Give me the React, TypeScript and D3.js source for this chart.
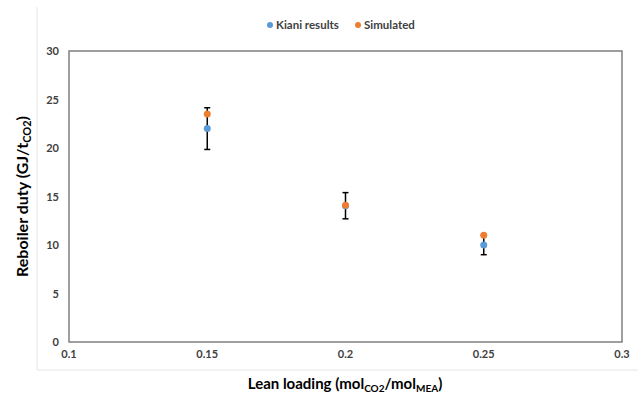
import React, { useEffect, useRef } from 'react';
import * as d3 from 'd3';

const loadings = [0.15, 0.2, 0.25];
const kiani = [22.0, 14.05, 10.0];
const kianiErr = [2.15, 1.35, 1.0];
const simulated = [23.5, 14.1, 11.0];
const xTicks = [0.1, 0.15, 0.2, 0.25, 0.3];
const yTicks = [0, 5, 10, 15, 20, 25, 30];

const blue = '#5b9bd5';
const orange = '#ed7d31';
const font = 'Lato, Calibri, sans-serif';

const App = () => {
  const svgRef = useRef<SVGSVGElement>(null);

  useEffect(() => {
    const w = 638;
    const h = 400;
    const svg = d3.select(svgRef.current)
      .attr('width', w)
      .attr('height', h)
      .style('display', 'block');
    svg.selectAll('*').remove();

    const left = 69, right = 622, top = 51, bottom = 342;

    // chart area border (light)
    svg.append('path')
      .attr('d', `M37,7 V370 H${w}`)
      .attr('fill', 'none')
      .attr('stroke', '#e6e6e6')
      .attr('stroke-width', 1);

    const xScale = d3.scaleLinear().domain([0.1, 0.3]).range([left, right]);
    const yScale = d3.scaleLinear().domain([0, 30]).range([bottom, top]);

    svg.append('rect')
      .attr('x', left)
      .attr('y', top)
      .attr('width', right - left)
      .attr('height', bottom - top)
      .attr('fill', 'none')
      .attr('stroke', '#7f7f7f')
      .attr('stroke-width', 1.5);

    svg.append('g').selectAll('text')
      .data(xTicks)
      .enter()
      .append('text')
      .attr('x', d => xScale(d))
      .attr('y', 358)
      .attr('text-anchor', 'middle')
      .attr('font-family', font)
      .attr('font-weight', 'bold')
      .attr('font-size', 11)
      .attr('fill', '#404040')
      .text(d => String(d));

    svg.append('g').selectAll('text')
      .data(yTicks)
      .enter()
      .append('text')
      .attr('x', 59)
      .attr('y', d => yScale(d) + 4)
      .attr('text-anchor', 'end')
      .attr('font-family', font)
      .attr('font-weight', 'bold')
      .attr('font-size', 11)
      .attr('fill', '#404040')
      .text(d => String(d));

    // error bars on Kiani results
    const eb = svg.append('g').attr('stroke', '#000').attr('stroke-width', 1.5);
    loadings.forEach((x, i) => {
      const cx = xScale(x);
      const y0 = yScale(kiani[i] - kianiErr[i]);
      const y1 = yScale(kiani[i] + kianiErr[i]);
      eb.append('line').attr('x1', cx).attr('x2', cx).attr('y1', y0).attr('y2', y1);
      eb.append('line').attr('x1', cx - 3).attr('x2', cx + 3).attr('y1', y0).attr('y2', y0);
      eb.append('line').attr('x1', cx - 3).attr('x2', cx + 3).attr('y1', y1).attr('y2', y1);
    });

    svg.append('g').selectAll('circle')
      .data(loadings)
      .enter()
      .append('circle')
      .attr('cx', d => xScale(d))
      .attr('cy', (d, i) => yScale(kiani[i]))
      .attr('r', 3.5)
      .attr('fill', blue);

    svg.append('g').selectAll('circle')
      .data(loadings)
      .enter()
      .append('circle')
      .attr('cx', d => xScale(d))
      .attr('cy', (d, i) => yScale(simulated[i]))
      .attr('r', 3.5)
      .attr('fill', orange);

    // legend
    const legend = [
      { name: 'Kiani results', color: blue, x: 270 },
      { name: 'Simulated', color: orange, x: 358 },
    ];
    legend.forEach(l => {
      svg.append('circle').attr('cx', l.x).attr('cy', 25).attr('r', 3).attr('fill', l.color);
      svg.append('text')
        .attr('x', l.x + 6)
        .attr('y', 29)
        .attr('font-family', font)
        .attr('font-weight', 'bold')
        .attr('font-size', 11.5)
        .attr('fill', '#404040')
        .text(l.name);
    });

    // y axis title
    const yt = svg.append('text')
      .attr('transform', `translate(28,${(top + bottom) / 2}) rotate(-90)`)
      .attr('text-anchor', 'middle')
      .attr('font-family', font)
      .attr('font-weight', 'bold')
      .attr('font-size', 16)
      .attr('fill', '#000');
    yt.append('tspan').text('Reboiler duty (GJ/t');
    yt.append('tspan').attr('font-size', 11).attr('dy', 3).text('CO2');
    yt.append('tspan').attr('dy', -3).text(')');

    // x axis title
    const xt = svg.append('text')
      .attr('x', 345)
      .attr('y', 389)
      .attr('text-anchor', 'middle')
      .attr('font-family', font)
      .attr('font-weight', 'bold')
      .attr('font-size', 15)
      .attr('fill', '#000');
    xt.append('tspan').text('Lean loading (mol');
    xt.append('tspan').attr('font-size', 10).attr('dy', 3).text('CO2');
    xt.append('tspan').attr('dy', -3).text('/mol');
    xt.append('tspan').attr('font-size', 10).attr('dy', 3).text('MEA');
    xt.append('tspan').attr('dy', -3).text(')');
  }, []);

  return (
    <div style={{ position: 'absolute', left: 0, top: 0 }}>
      <svg ref={svgRef} />
    </div>
  );
};

export default App;
